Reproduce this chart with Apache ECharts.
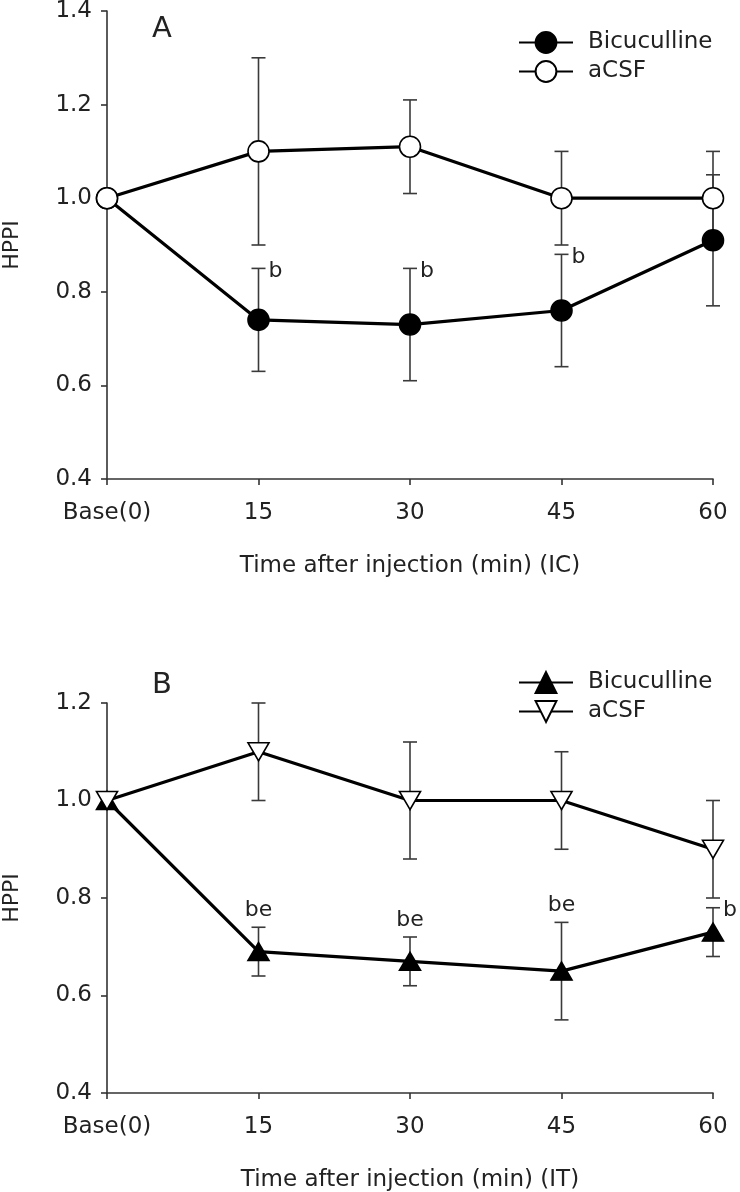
<!DOCTYPE html>
<html>
<head>
<meta charset="utf-8">
<script src="https://cdn.jsdelivr.net/npm/echarts@6/dist/echarts.min.js"></script>
<style>
html,body{margin:0;padding:0;background:#fff;}
#a,#b{width:740px;height:596px;}
</style>
</head>
<body>
<div id="a"></div>
<div id="b"></div>
<script>
// ---- data ----
const categories = ['Base(0)', '15', '30', '45', '60'];

// Panel A (IC)
const bicA    = [1.00, 0.74, 0.73, 0.76, 0.91];
const bicA_hi = [null, 0.85, 0.85, 0.88, 1.05];
const bicA_lo = [null, 0.63, 0.61, 0.64, 0.77];
const csfA    = [1.00, 1.10, 1.11, 1.00, 1.00];
const csfA_hi = [null, 1.30, 1.21, 1.10, 1.10];
const csfA_lo = [null, 0.90, 1.01, 0.90, 0.90];
const sigA    = ['', 'b', 'b', 'b', ''];

// Panel B (IT)
const bicB    = [1.00, 0.69, 0.67, 0.65, 0.73];
const bicB_hi = [null, 0.74, 0.72, 0.75, 0.78];
const bicB_lo = [null, 0.64, 0.62, 0.55, 0.68];
const csfB    = [1.00, 1.10, 1.00, 1.00, 0.90];
const csfB_hi = [null, 1.20, 1.12, 1.10, 1.00];
const csfB_lo = [null, 1.00, 0.88, 0.90, 0.80];
const sigB    = ['', 'be', 'be', 'be', 'b'];

const seriesNames = ['Bicuculline', 'aCSF'];
const axisTitleA = 'Time after injection (min) (IC)';
const axisTitleB = 'Time after injection (min) (IT)';
const yTitle = 'HPPI';

// ---- styling / helpers ----
const FONT = 'DejaVu Sans';
const TXT = '#222';
const AX = '#333';

function errData(lo, hi) {
  const out = [];
  for (let i = 0; i < categories.length; i++) {
    if (hi[i] != null) out.push([i, lo[i], hi[i]]);
  }
  return out;
}
function errSeries(lo, hi) {
  return {
    type: 'custom', z: 1, silent: true, clip: false,
    data: errData(lo, hi),
    encode: {x: 0, y: [1, 2]},
    renderItem: function (params, api) {
      const x = api.value(0);
      const pLo = api.coord([x, api.value(1)]);
      const pHi = api.coord([x, api.value(2)]);
      const w = 7;
      const style = {stroke: '#3a3a3a', lineWidth: 1.6};
      return {type: 'group', children: [
        {type: 'line', shape: {x1: pHi[0], y1: pHi[1], x2: pLo[0], y2: pLo[1]}, style: style},
        {type: 'line', shape: {x1: pHi[0] - w, y1: pHi[1], x2: pHi[0] + w, y2: pHi[1]}, style: style},
        {type: 'line', shape: {x1: pLo[0] - w, y1: pLo[1], x2: pLo[0] + w, y2: pLo[1]}, style: style}
      ]};
    }
  };
}
function sigSeries(hi, sig, placeTop) {
  const data = [];
  for (let i = 0; i < categories.length; i++) {
    if (sig[i]) data.push([i, hi[i]]);
  }
  return {
    type: 'custom', z: 5, silent: true, clip: false,
    data: data,
    encode: {x: 0, y: 1},
    renderItem: function (params, api) {
      const i = api.value(0);
      const p = api.coord([i, api.value(1)]);
      const top = placeTop(i);
      return {
        type: 'text',
        style: {
          text: sig[i],
          x: top ? p[0] : p[0] + 10,
          y: top ? p[1] - 6 : p[1] + 3,
          align: top ? 'center' : 'left',
          verticalAlign: top ? 'bottom' : 'middle',
          font: '22px "' + FONT + '"',
          fill: TXT
        }
      };
    }
  };
}

function baseOption(cfg) {
  return {
    animation: false,
    backgroundColor: '#fff',
    textStyle: {fontFamily: FONT},
    grid: {left: 107, top: cfg.gridTop, width: 606, height: cfg.gridH,
           containLabel: false, outerBoundsMode: 'none'},
    legend: {
      orient: 'vertical', left: 518, top: cfg.legendTop, padding: 0,
      itemWidth: 54, itemHeight: 26, itemGap: 6,
      symbolRotate: 'inherit',
      textStyle: {fontFamily: FONT, fontSize: 23, color: TXT, padding: [0, 0, 0, 10]},
      data: seriesNames
    },
    graphic: [{
      type: 'text', left: 152, top: cfg.letterTop,
      style: {text: cfg.letter, font: '29px "' + FONT + '"', fill: TXT}
    }],
    xAxis: {
      type: 'category', data: categories, boundaryGap: false,
      axisLine: {lineStyle: {color: AX, width: 1.6}},
      axisTick: {show: true, length: 6, lineStyle: {color: AX, width: 1.6}},
      axisLabel: {fontFamily: FONT, fontSize: 23, color: TXT, margin: 23},
      name: cfg.xTitle, nameLocation: 'middle', nameGap: 76,
      nameTextStyle: {fontFamily: FONT, fontSize: 23, color: TXT},
      splitLine: {show: false}
    },
    yAxis: {
      type: 'value', min: 0.4, max: cfg.yMax, interval: 0.2,
      axisLine: {show: true, lineStyle: {color: AX, width: 1.6}},
      axisTick: {show: true, length: 6, lineStyle: {color: AX, width: 1.6}},
      axisLabel: {fontFamily: FONT, fontSize: 23, color: TXT, margin: 15,
                  formatter: function (v) { return v.toFixed(1); }},
      splitLine: {show: false},
      name: yTitle, nameLocation: 'middle', nameGap: 84, nameRotate: 90,
      nameTextStyle: {fontFamily: FONT, fontSize: 22, color: TXT}
    },
    series: cfg.series
  };
}

function lineSeries(name, data, symbol, size, fill, rotate) {
  return {
    name: name, type: 'line', data: data, z: 3, clip: false,
    symbol: symbol, symbolSize: size, symbolRotate: rotate || 0,
    showAllSymbol: true,
    lineStyle: {color: '#000', width: 3.2},
    itemStyle: {color: fill, borderColor: '#000', borderWidth: 1.6}
  };
}

const chartA = echarts.init(document.getElementById('a'), null, {renderer: 'canvas'});
chartA.setOption(baseOption({
  gridTop: 11, gridH: 468, yMax: 1.4, legendTop: 31, letterTop: 15, letter: 'A',
  xTitle: axisTitleA,
  series: [
    errSeries(bicA_lo, bicA_hi),
    errSeries(csfA_lo, csfA_hi),
    lineSeries(seriesNames[0], bicA, 'circle', 21, '#000'),
    lineSeries(seriesNames[1], csfA, 'circle', 21, '#fff'),
    sigSeries(bicA_hi, sigA, function () { return false; })
  ]
}));

const chartB = echarts.init(document.getElementById('b'), null, {renderer: 'canvas'});
chartB.setOption(baseOption({
  gridTop: 107, gridH: 390, yMax: 1.2, legendTop: 75, letterTop: 75, letter: 'B',
  xTitle: axisTitleB,
  series: [
    errSeries(bicB_lo, bicB_hi),
    errSeries(csfB_lo, csfB_hi),
    lineSeries(seriesNames[0], bicB, 'triangle', [21, 18], '#000'),
    lineSeries(seriesNames[1], csfB, 'triangle', [21, 18], '#fff', 180),
    sigSeries(bicB_hi, sigB, function (i) { return i < categories.length - 1; })
  ]
}));
</script>
</body>
</html>
